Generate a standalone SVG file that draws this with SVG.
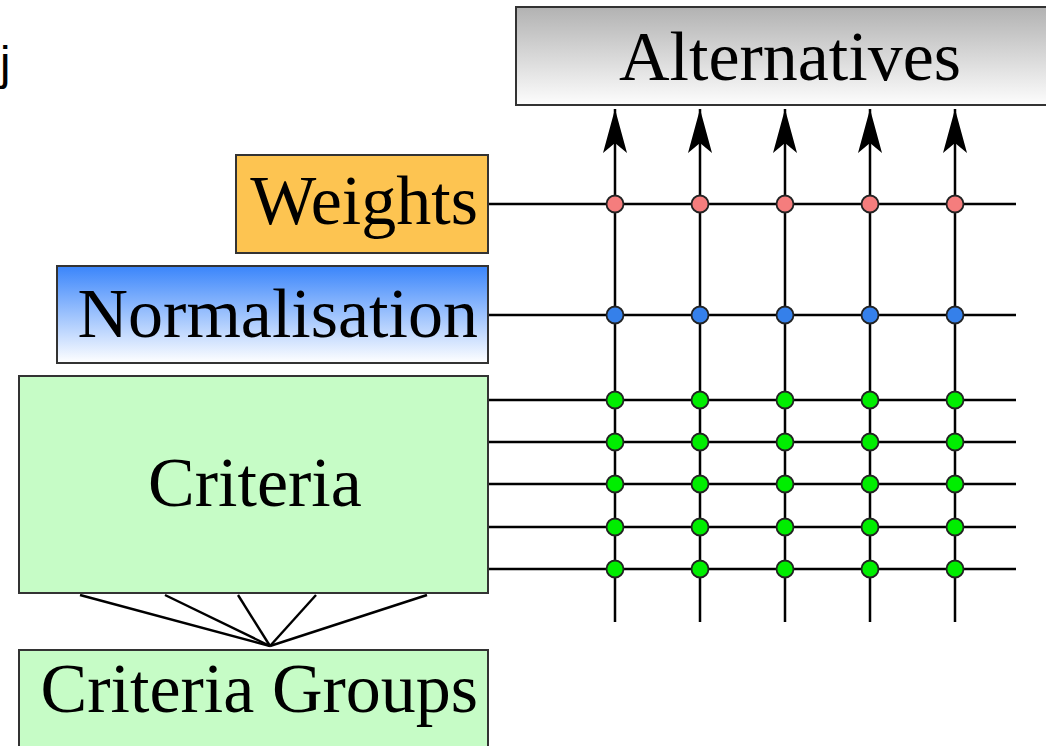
<svg xmlns="http://www.w3.org/2000/svg" width="1046" height="746" viewBox="0 0 1046 746">
  <defs>
    <linearGradient id="gGrey" x1="0" y1="0" x2="0" y2="1">
      <stop offset="0" stop-color="#b2b2b2"/>
      <stop offset="1" stop-color="#fdfdfd"/>
    </linearGradient>
    <linearGradient id="gBlue" x1="0" y1="0" x2="0" y2="1">
      <stop offset="0" stop-color="#3a85fb"/>
      <stop offset="1" stop-color="#ffffff"/>
    </linearGradient>
    <marker id="stealth" viewBox="-45 -13 47 26" markerWidth="47" markerHeight="26" refX="0" refY="0" orient="auto" markerUnits="userSpaceOnUse">
      <path d="M0,0 L-44,-12 L-34,0 L-44,12 Z" fill="#000"/>
    </marker>
    <style>
      .box { stroke: #333; stroke-width: 2; }
      .lbl { font-family: "Liberation Serif", "Times New Roman", serif; font-size: 70px; fill: #000; }
      .ln { stroke: #000; stroke-width: 2.5; fill: none; }
      .fan { stroke: #000; stroke-width: 2.4; fill: none; }
      .dot { stroke: #222; stroke-width: 1.8; }
      .red { fill: #f57d7d; }
      .blue { fill: #3580ea; }
      .green { fill: #00ee00; }
    </style>
  </defs>
  <rect width="1046" height="746" fill="#fff"/>

  <text x="0" y="79" font-family="'Liberation Sans', Arial, sans-serif" font-size="47" fill="#000">j</text>

  <g id="connectors">
    <g id="verticals">
      <line class="ln" x1="615" y1="622" x2="615" y2="109" marker-end="url(#stealth)"/>
      <line class="ln" x1="700" y1="622" x2="700" y2="109" marker-end="url(#stealth)"/>
      <line class="ln" x1="785" y1="622" x2="785" y2="109" marker-end="url(#stealth)"/>
      <line class="ln" x1="870" y1="622" x2="870" y2="109" marker-end="url(#stealth)"/>
      <line class="ln" x1="955" y1="622" x2="955" y2="109" marker-end="url(#stealth)"/>
    </g>
    <g id="horizontals">
      <line class="ln" x1="489" y1="204" x2="1016" y2="204"/>
      <line class="ln" x1="489" y1="315" x2="1016" y2="315"/>
      <line class="ln" x1="489" y1="400" x2="1016" y2="400"/>
      <line class="ln" x1="489" y1="442" x2="1016" y2="442"/>
      <line class="ln" x1="489" y1="484" x2="1016" y2="484"/>
      <line class="ln" x1="489" y1="527" x2="1016" y2="527"/>
      <line class="ln" x1="489" y1="569" x2="1016" y2="569"/>
    </g>
    <g id="fan">
      <line class="fan" x1="80" y1="595" x2="270" y2="646"/>
      <line class="fan" x1="165" y1="595" x2="270" y2="646"/>
      <line class="fan" x1="238" y1="595" x2="270" y2="646"/>
      <line class="fan" x1="316" y1="595" x2="270" y2="646"/>
      <line class="fan" x1="427" y1="595" x2="270" y2="646"/>
    </g>
  </g>

  <g id="dots">
    <g id="dots-weights">
      <circle class="dot red" cx="615" cy="204" r="8.5"/>
      <circle class="dot red" cx="700" cy="204" r="8.5"/>
      <circle class="dot red" cx="785" cy="204" r="8.5"/>
      <circle class="dot red" cx="870" cy="204" r="8.5"/>
      <circle class="dot red" cx="955" cy="204" r="8.5"/>
    </g>
    <g id="dots-norm">
      <circle class="dot blue" cx="615" cy="315" r="8.5"/>
      <circle class="dot blue" cx="700" cy="315" r="8.5"/>
      <circle class="dot blue" cx="785" cy="315" r="8.5"/>
      <circle class="dot blue" cx="870" cy="315" r="8.5"/>
      <circle class="dot blue" cx="955" cy="315" r="8.5"/>
    </g>
    <g id="dots-criteria">
      <circle class="dot green" cx="615" cy="400" r="8.5"/><circle class="dot green" cx="700" cy="400" r="8.5"/><circle class="dot green" cx="785" cy="400" r="8.5"/><circle class="dot green" cx="870" cy="400" r="8.5"/><circle class="dot green" cx="955" cy="400" r="8.5"/>
      <circle class="dot green" cx="615" cy="442" r="8.5"/><circle class="dot green" cx="700" cy="442" r="8.5"/><circle class="dot green" cx="785" cy="442" r="8.5"/><circle class="dot green" cx="870" cy="442" r="8.5"/><circle class="dot green" cx="955" cy="442" r="8.5"/>
      <circle class="dot green" cx="615" cy="484" r="8.5"/><circle class="dot green" cx="700" cy="484" r="8.5"/><circle class="dot green" cx="785" cy="484" r="8.5"/><circle class="dot green" cx="870" cy="484" r="8.5"/><circle class="dot green" cx="955" cy="484" r="8.5"/>
      <circle class="dot green" cx="615" cy="527" r="8.5"/><circle class="dot green" cx="700" cy="527" r="8.5"/><circle class="dot green" cx="785" cy="527" r="8.5"/><circle class="dot green" cx="870" cy="527" r="8.5"/><circle class="dot green" cx="955" cy="527" r="8.5"/>
      <circle class="dot green" cx="615" cy="569" r="8.5"/><circle class="dot green" cx="700" cy="569" r="8.5"/><circle class="dot green" cx="785" cy="569" r="8.5"/><circle class="dot green" cx="870" cy="569" r="8.5"/><circle class="dot green" cx="955" cy="569" r="8.5"/>
    </g>
  </g>

  <g id="alternatives">
    <rect class="box" x="516" y="7" width="540" height="98" fill="url(#gGrey)"/>
    <text class="lbl" x="790" y="80" text-anchor="middle">Alternatives</text>
  </g>

  <g id="weights">
    <rect class="box" x="236" y="155" width="252" height="98" fill="#fdc451"/>
    <text class="lbl" x="478" y="224" text-anchor="end">Weights</text>
  </g>

  <g id="normalisation">
    <rect class="box" x="57" y="266" width="431" height="97" fill="url(#gBlue)"/>
    <text class="lbl" x="478" y="337" text-anchor="end">Normalisation</text>
  </g>

  <g id="criteria">
    <rect class="box" x="19" y="376" width="469" height="217" fill="#c6fcc6"/>
    <text class="lbl" x="255" y="506" text-anchor="middle">Criteria</text>
  </g>

  <g id="criteria-groups">
    <rect class="box" x="19" y="650" width="469" height="110" fill="#c6fcc6"/>
    <text class="lbl" x="478" y="712" text-anchor="end">Criteria Groups</text>
  </g>
</svg>
